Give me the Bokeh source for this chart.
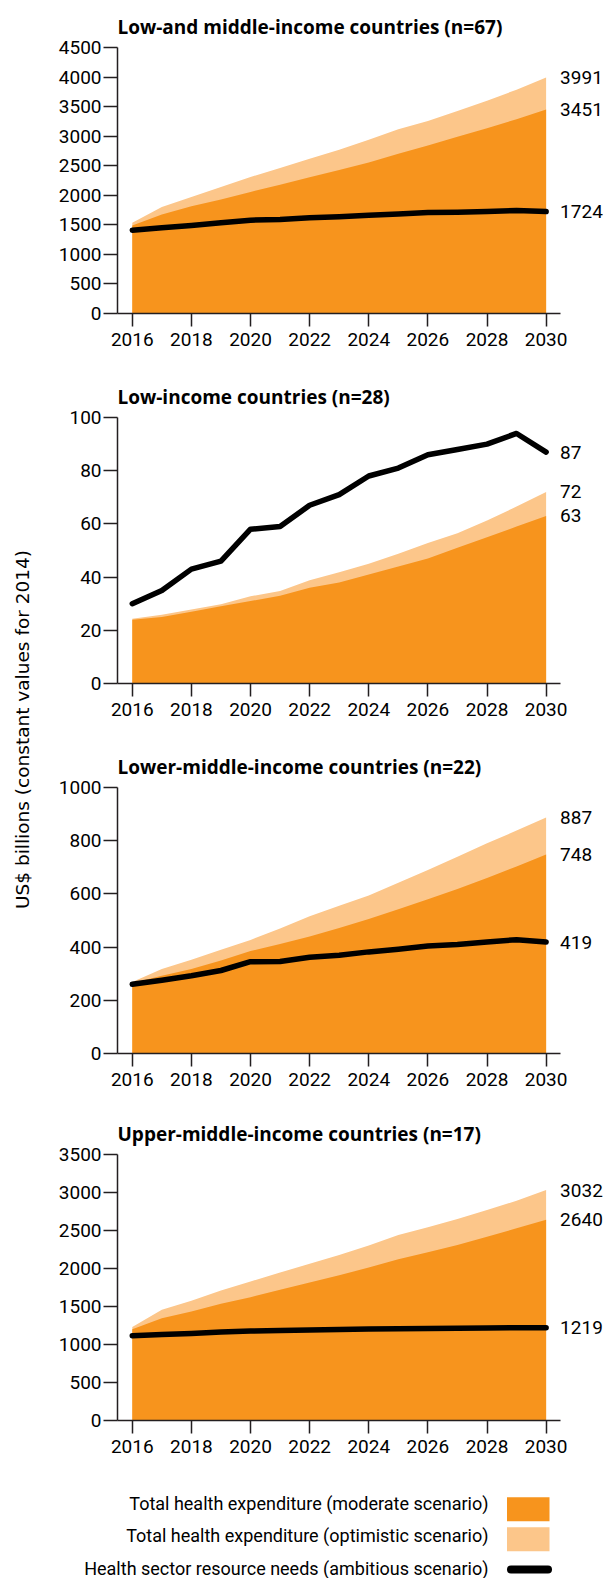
import math
from bokeh.plotting import figure
from bokeh.layouts import row, column
from bokeh.models import Range1d, Label, FixedTicker
from bokeh.core.properties import value
from bokeh.embed import file_html
from bokeh.resources import INLINE

# ---------------- data ----------------
years = list(range(2016, 2031))

titles = [
    "Low-and middle-income countries (n=67)",
    "Low-income countries (n=28)",
    "Lower-middle-income countries (n=22)",
    "Upper-middle-income countries (n=17)",
]
y_max = [4500, 100, 1000, 3500]
y_step = [500, 20, 200, 500]

# Low-and middle-income countries (n=67)
opt_lmic_all = [1534, 1803, 1972, 2140, 2309, 2461, 2618, 2770, 2938, 3118, 3258, 3427, 3601, 3786, 3991]
mod_lmic_all = [1490, 1674, 1815, 1927, 2056, 2180, 2303, 2427, 2556, 2702, 2843, 2989, 3135, 3287, 3451]
need_lmic_all = [1410, 1450, 1489, 1534, 1579, 1590, 1618, 1635, 1663, 1685, 1708, 1713, 1725, 1742, 1724]

# Low-income countries (n=28)
opt_lic = [24.3, 25.8, 27.8, 29.8, 32.8, 34.8, 38.8, 41.8, 45, 48.8, 52.8, 56.5, 61.3, 66.5, 72]
mod_lic = [24, 25, 27, 29, 31, 33, 36, 38, 41, 44, 47, 51, 55, 59, 63]
need_lic = [30, 35, 43, 46, 58, 59, 67, 71, 78, 81, 86, 88, 90, 94, 87]

# Lower-middle-income countries (n=22)
opt_lmc = [269, 318, 352, 390, 427, 470, 516, 555, 594, 642, 690, 740, 790, 838, 887]
mod_lmc = [265, 292, 318, 350, 385, 412, 440, 472, 506, 542, 580, 618, 660, 703, 748]
need_lmc = [260, 275, 292, 312, 345, 346, 362, 369, 382, 392, 404, 410, 419, 428, 419]

# Upper-middle-income countries (n=17)
opt_umc = [1229, 1457, 1575, 1711, 1829, 1947, 2061, 2179, 2301, 2441, 2542, 2651, 2769, 2892, 3032]
mod_umc = [1200, 1347, 1435, 1536, 1623, 1719, 1816, 1912, 2012, 2122, 2214, 2310, 2419, 2529, 2640]
need_umc = [1116, 1133, 1146, 1164, 1177, 1184, 1190, 1197, 1203, 1208, 1212, 1214, 1216, 1221, 1219]

optimistic = [opt_lmic_all, opt_lic, opt_lmc, opt_umc]
moderate = [mod_lmic_all, mod_lic, mod_lmc, mod_umc]
needs = [need_lmic_all, need_lic, need_lmc, need_umc]

y_axis_label = "US$ billions (constant values for 2014)"
legend_labels = [
    "Total health expenditure (moderate scenario)",
    "Total health expenditure (optimistic scenario)",
    "Health sector resource needs (ambitious scenario)",
]

# ---------------- style / layout ----------------
ORANGE = "#F7941D"
LIGHT = "#FCC68A"
AXIS = "#231F20"
FONT = "Roboto"

PAGE_W = 607
LEFT_W = 38            # width of the strip holding the shared y label
PANEL_W = PAGE_W - LEFT_W
BORDER_L = 79          # frame left at x = 117
FRAME_W = PANEL_W - BORDER_L
PX_PER_YEAR = 443.4 / 15
FRAME_H = 266
panel_heights = [370, 370, 368, 367]
panel_tops = [47, 47, 47, 46]
PANELS_H = sum(panel_heights)
LEGEND_H = 103

x_start = years[0] - 0.5
x_end_axis = years[-1] + 0.5
x_end_frame = x_start + FRAME_W / PX_PER_YEAR


def make_panel(i):
    h = panel_heights[i]
    top = panel_tops[i]
    p = figure(width=PANEL_W, height=h,
               x_range=Range1d(x_start, x_end_frame),
               y_range=Range1d(0, y_max[i]),
               output_backend="svg", toolbar_location=None,
               min_border_left=BORDER_L, min_border_right=0,
               min_border_top=top, min_border_bottom=h - top - FRAME_H)
    p.outline_line_color = None
    p.background_fill_color = "white"
    p.border_fill_color = "white"
    p.xgrid.visible = False
    p.ygrid.visible = False

    p.title.text = titles[i]
    p.title.text_font = "Open Sans"
    p.title.text_font_style = "bold"
    p.title.text_font_size = "19px"
    p.title.text_color = "#000000"
    p.title.text_line_height = 1.6
    p.title.align = "left"
    p.title.vertical_align = "top"
    p.title.offset = 0
    p.title.standoff = 11

    p.varea(x=years, y1=0, y2=optimistic[i], fill_color=LIGHT)
    p.varea(x=years, y1=0, y2=moderate[i], fill_color=ORANGE)
    p.line(x=years, y=needs[i], line_color="black", line_width=5.5,
           line_cap="round", line_join="round")

    for ser in (optimistic[i], moderate[i], needs[i]):
        p.add_layout(Label(x=years[-1], y=ser[-1], text=f"{ser[-1]:.0f}",
                           x_offset=14, text_baseline="middle", text_align="left",
                           text_font=FONT, text_font_size="19px",
                           text_color="#000000"))

    for ax in (p.xaxis[0], p.yaxis[0]):
        ax.axis_line_color = AXIS
        ax.axis_line_width = 1.5
        ax.major_tick_line_color = AXIS
        ax.major_tick_line_width = 1.5
        ax.major_tick_in = 0
        ax.minor_tick_line_color = None
        ax.major_label_text_font = FONT
        ax.major_label_text_font_size = "19px"
        ax.major_label_text_color = "#000000"

    p.xaxis.bounds = (x_start, x_end_axis)
    p.xaxis.ticker = FixedTicker(ticks=years[::2])
    p.xaxis.major_tick_out = 13
    p.xaxis.major_label_standoff = 6
    p.yaxis.ticker = FixedTicker(ticks=list(range(0, y_max[i] + 1, y_step[i])))
    p.yaxis.major_tick_out = 14
    p.yaxis.major_label_standoff = 2
    return p


panels = [make_panel(i) for i in range(4)]

# Shared y-axis label
ylab = figure(width=LEFT_W, height=PANELS_H, x_range=Range1d(0, LEFT_W),
              y_range=Range1d(0, PANELS_H), output_backend="svg",
              toolbar_location=None, min_border=0,
              x_axis_type=None, y_axis_type=None)
ylab.outline_line_color = None
ylab.xgrid.visible = False
ylab.ygrid.visible = False
ylab.add_layout(Label(x=22, y=PANELS_H - 729, text=y_axis_label,
                      angle=math.pi / 2, text_align="center", text_baseline="middle",
                      text_font="DejaVu Sans", text_font_size="18.5px",
                      text_color="#000000"))

# Legend (coordinates in page pixels: x from left, y from the legend's top)
leg = figure(width=PAGE_W, height=LEGEND_H, x_range=Range1d(0, PAGE_W),
             y_range=Range1d(LEGEND_H, 0), output_backend="svg",
             toolbar_location=None, min_border=0,
             x_axis_type=None, y_axis_type=None)
leg.outline_line_color = None
leg.xgrid.visible = False
leg.ygrid.visible = False
row_y = [28, 60, 92.5]
leg.text(x=[488] * 3, y=row_y, text=legend_labels, text_align="right",
         text_baseline="middle", text_font=value(FONT), text_font_size="18px",
         text_color="#000000")
leg.quad(left=[506.5, 506.5], right=[549, 549], top=[21.7, 51.7], bottom=[45.7, 75.7],
         fill_color=[ORANGE, LIGHT], line_color=None)
leg.line(x=[510.5, 547.5], y=[94, 94], line_color="black", line_width=8, line_cap="round")

layout = column(row(ylab, column(*panels)), leg)

open("out.html", "w").write(file_html(layout, INLINE))
